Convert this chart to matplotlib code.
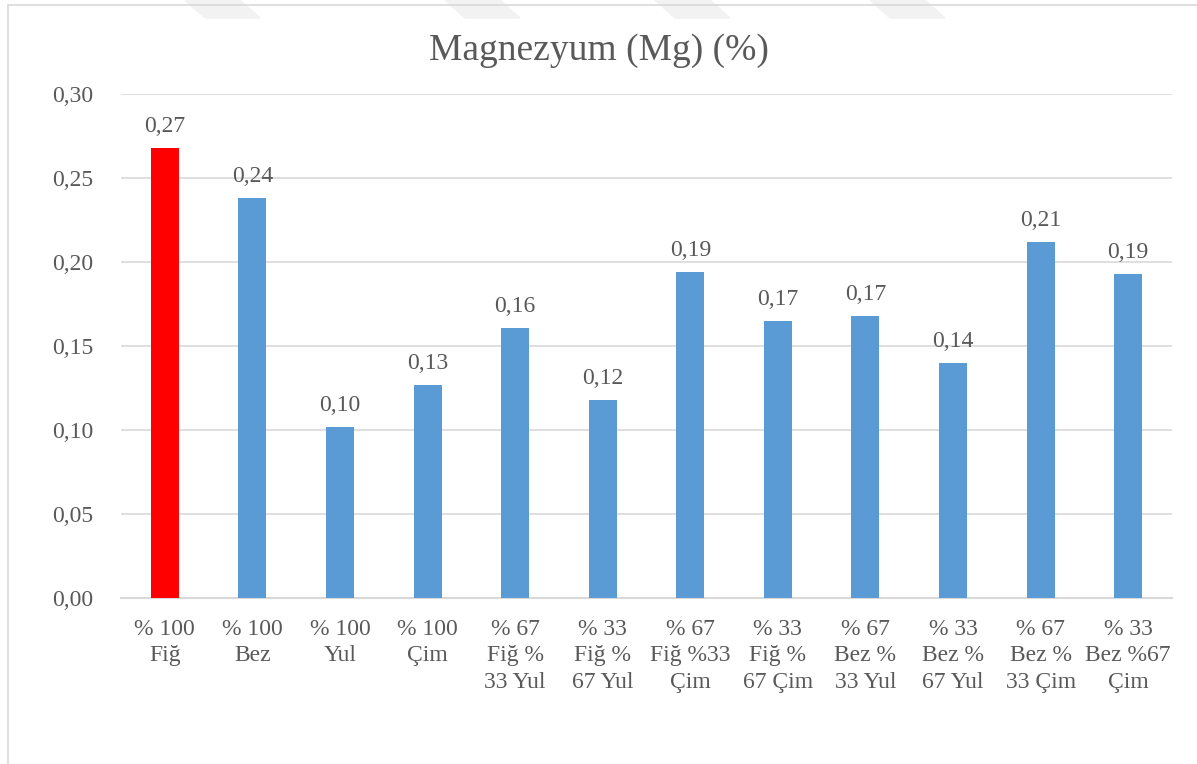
import matplotlib.pyplot as plt
from matplotlib.patches import Rectangle, Polygon

categories = ['% 100\nFiğ', '% 100\nBez', '% 100\nYul', '% 100\nÇim',
              '% 67\nFiğ %\n33 Yul', '% 33\nFiğ %\n67 Yul', '% 67\nFiğ %33\nÇim',
              '% 33\nFiğ %\n67 Çim', '% 67\nBez %\n33 Yul', '% 33\nBez %\n67 Yul',
              '% 67\nBez %\n33 Çim', '% 33\nBez %67\nÇim']
magnesium = [0.268, 0.238, 0.102, 0.127, 0.161, 0.118, 0.194, 0.165, 0.168, 0.140, 0.212, 0.193]
yticks = [0.00, 0.05, 0.10, 0.15, 0.20, 0.25, 0.30]

text_color = '#595959'
plt.rcParams['font.family'] = ['Liberation Serif', 'DejaVu Serif']

fig = plt.figure(figsize=(11.97, 7.64), dpi=100)
ax = fig.add_axes([121 / 1197, 1 - 598 / 764, 1051 / 1197, 504 / 764])

colors = ['#ff0000'] + ['#5b9bd5'] * (len(magnesium) - 1)
x = range(len(magnesium))
bars = ax.bar(x, magnesium, width=0.32, color=colors, zorder=3)

for b, v in zip(bars, magnesium):
    ax.text(b.get_x() + b.get_width() / 2, v + 0.0065, f'{v:.2f}'.replace('.', ','),
            ha='center', va='bottom', fontsize=17, color=text_color)

ax.set_xlim(-0.5, len(magnesium) - 0.5)
ax.set_ylim(0, 0.30)
ax.set_yticks(yticks)
ax.set_yticklabels([f'{t:.2f}'.replace('.', ',') for t in yticks])
ax.set_xticks(list(x))
ax.set_xticklabels(categories, linespacing=1.35)
ax.tick_params(axis='both', length=0, labelsize=17, colors=text_color)
ax.tick_params(axis='x', pad=15)
ax.tick_params(axis='y', pad=20)
ax.grid(axis='y', color='#d9d9d9', linewidth=1.2, zorder=0)
for s in ['top', 'right', 'left']:
    ax.spines[s].set_visible(False)
ax.spines['bottom'].set_color('#d9d9d9')
ax.spines['bottom'].set_linewidth(1.5)

fig.text(0.5, 1 - 51 / 764, 'Magnezyum (Mg) (%)', ha='center', va='center',
         fontsize=27, color=text_color)

# chart frame
fig.patches.append(Rectangle((8 / 1197, -0.05), 1.2, 1 - 5 / 764 + 0.05,
                             transform=fig.transFigure, fill=False,
                             edgecolor='#d9d9d9', linewidth=1.2))

# faint page watermark along the top edge
for x0 in [185, 445, 655, 870]:
    pts = [(x0, 764), (x0 + 55, 764), (x0 + 75, 764 - 18), (x0 + 20, 764 - 18)]
    fig.patches.append(Polygon([(px / 1197, py / 764) for px, py in pts],
                               transform=fig.transFigure, color='#f2f2f2', zorder=-1))

fig.savefig('out.png', dpi=100)
